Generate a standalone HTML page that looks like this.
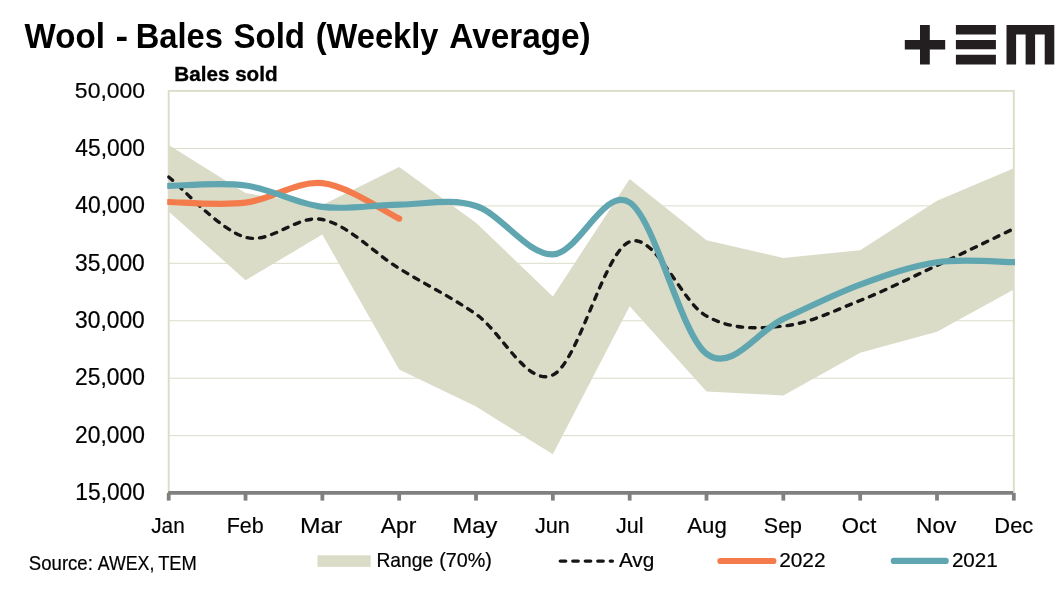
<!DOCTYPE html>
<html><head><meta charset="utf-8"><title>Wool - Bales Sold</title>
<style>
html,body{margin:0;padding:0;background:#fff;}
body{width:1064px;height:593px;overflow:hidden;font-family:"Liberation Sans",sans-serif;}
svg{display:block;will-change:transform;}
text{font-family:"Liberation Sans",sans-serif;fill:#000;}
</style></head><body>
<svg width="1064" height="593" viewBox="0 0 1064 593">
<defs><clipPath id="plot"><rect x="167.2" y="80" width="847.8" height="420"/></clipPath></defs>
<rect width="1064" height="593" fill="#fff"/>
<!-- title -->
<text transform="translate(24.60,48.00) scale(0.9610,1)" font-size="34.5" font-weight="bold">Wool</text><text transform="translate(115.50,48.00) scale(1.0996,1)" font-size="34.5" font-weight="bold">-</text><text transform="translate(135.80,48.00) scale(0.9466,1)" font-size="34.5" font-weight="bold">Bales</text><text transform="translate(233.42,48.00) scale(0.9587,1)" font-size="34.5" font-weight="bold">Sold</text><text transform="translate(315.71,48.00) scale(0.9464,1)" font-size="34.5" font-weight="bold">(Weekly</text><text transform="translate(449.34,48.00) scale(0.9663,1)" font-size="34.5" font-weight="bold">Average)</text>
<!-- logo -->
<g fill="#231f20">
<path d="M920,25h9.8v14.9h15.4v9.5h-15.4v15h-9.8v-15h-15.2v-9.5h15.2z"/>
<path d="M955.9,25h40v9.4h-40z M955.9,39.9h40v9.4h-40z M955.9,54.8h40v9.6h-40z"/>
<path d="M1006.5,25h47.8v39.4h-9.6v-30h-9.6v30h-9.5v-30h-9.5v30h-9.6z"/>
</g>
<!-- axis title -->
<text transform="translate(174.35,81.40) scale(0.9828,1)" font-size="21" font-weight="bold" stroke="#000" stroke-width="0.35">Bales sold</text>
<!-- gridlines -->
<g stroke="#dcddc9" stroke-width="1" transform="translate(0,0.15)"><line x1="168.7" y1="148.33" x2="1013.8" y2="148.33"/><line x1="168.7" y1="205.76" x2="1013.8" y2="205.76"/><line x1="168.7" y1="263.19" x2="1013.8" y2="263.19"/><line x1="168.7" y1="320.61" x2="1013.8" y2="320.61"/><line x1="168.7" y1="378.04" x2="1013.8" y2="378.04"/><line x1="168.7" y1="435.47" x2="1013.8" y2="435.47"/></g>
<!-- range area -->
<path d="M168.70,144.90 L245.53,193.10 L322.36,205.00 L399.19,167.00 L476.02,222.80 L552.85,296.40 L629.68,179.10 L706.51,240.30 L783.34,257.90 L860.17,250.20 L937.00,200.70 L1013.83,168.30 L1013.83,289.50 L937.00,331.70 L860.17,352.80 L783.34,395.40 L706.51,391.60 L629.68,306.20 L552.85,454.30 L476.02,406.50 L399.19,369.60 L322.36,234.60 L245.53,280.20 L168.70,211.50 Z" fill="#dbdcc7"/>
<!-- plot border -->
<rect x="168.7" y="90.9" width="845.1" height="402.0" fill="none" stroke="#dcddc9" stroke-width="1.9"/>
<g clip-path="url(#plot)" fill="none">
<path d="M168.70,177.00 C181.50,187.05 219.92,230.22 245.53,237.30 C271.14,244.38 296.75,214.30 322.36,219.50 C347.97,224.70 373.58,252.72 399.19,268.50 C424.80,284.28 450.41,296.45 476.02,314.20 C501.63,331.95 527.24,387.08 552.85,375.00 C578.46,362.92 604.07,251.52 629.68,241.70 C655.29,231.88 680.90,302.03 706.51,316.10 C732.12,330.17 757.73,328.70 783.34,326.10 C808.95,323.50 834.56,310.62 860.17,300.50 C885.78,290.38 911.39,277.37 937.00,265.40 C962.61,253.43 1001.02,234.82 1013.83,228.70" stroke="#161616" stroke-width="3.4" stroke-linecap="round" stroke-dasharray="5.4 7.1"/>
<path d="M168.70,202.00 C181.50,202.12 219.92,205.83 245.53,202.70 C271.14,199.57 296.75,180.55 322.36,183.20 C347.97,185.85 386.38,212.70 399.19,218.60" stroke="#f47c4c" stroke-width="6.2" stroke-linecap="round" stroke-linejoin="round"/>
<path d="M168.70,185.90 C181.50,185.83 219.92,182.00 245.53,185.50 C271.14,189.00 296.75,203.72 322.36,206.90 C347.97,210.08 373.58,204.75 399.19,204.60 C424.80,204.45 450.41,197.70 476.02,206.00 C501.63,214.30 527.24,254.98 552.85,254.40 C578.46,253.82 604.07,185.93 629.68,202.50 C655.29,219.07 680.90,334.42 706.51,353.80 C732.12,373.18 757.73,330.33 783.34,318.80 C808.95,307.27 834.56,294.03 860.17,284.60 C885.78,275.17 911.39,265.93 937.00,262.20 C962.61,258.47 1001.02,262.20 1013.83,262.20" stroke="#60a6b0" stroke-width="6.2" stroke-linecap="round" stroke-linejoin="round"/>
</g>
<!-- axis -->
<g stroke="#808080" stroke-width="3.8"><line x1="168.2" y1="492.9" x2="1013.2" y2="492.9"/><line x1="168.70" y1="492.9" x2="168.70" y2="500.6"/><line x1="245.53" y1="492.9" x2="245.53" y2="500.6"/><line x1="322.36" y1="492.9" x2="322.36" y2="500.6"/><line x1="399.19" y1="492.9" x2="399.19" y2="500.6"/><line x1="476.02" y1="492.9" x2="476.02" y2="500.6"/><line x1="552.85" y1="492.9" x2="552.85" y2="500.6"/><line x1="629.68" y1="492.9" x2="629.68" y2="500.6"/><line x1="706.51" y1="492.9" x2="706.51" y2="500.6"/><line x1="783.34" y1="492.9" x2="783.34" y2="500.6"/><line x1="860.17" y1="492.9" x2="860.17" y2="500.6"/><line x1="937.00" y1="492.9" x2="937.00" y2="500.6"/><line x1="1013.83" y1="492.9" x2="1013.83" y2="500.6"/></g>
<g><text transform="translate(74.86,98.30) scale(0.9991,1)" font-size="23" stroke="#000" stroke-width="0.2">50,000</text><text transform="translate(75.35,155.73) scale(0.9899,1)" font-size="23" stroke="#000" stroke-width="0.2">45,000</text><text transform="translate(75.35,213.16) scale(0.9899,1)" font-size="23" stroke="#000" stroke-width="0.2">40,000</text><text transform="translate(75.06,270.59) scale(0.9919,1)" font-size="23" stroke="#000" stroke-width="0.2">35,000</text><text transform="translate(75.06,328.01) scale(0.9919,1)" font-size="23" stroke="#000" stroke-width="0.2">30,000</text><text transform="translate(75.08,385.44) scale(0.9929,1)" font-size="23" stroke="#000" stroke-width="0.2">25,000</text><text transform="translate(75.08,442.87) scale(0.9929,1)" font-size="23" stroke="#000" stroke-width="0.2">20,000</text><text transform="translate(75.31,500.30) scale(0.9906,1)" font-size="23" stroke="#000" stroke-width="0.2">15,000</text></g>
<g><text transform="translate(151.23,532.60) scale(0.9179,1)" font-size="22.6" stroke="#000" stroke-width="0.2">Jan</text><text transform="translate(226.67,532.60) scale(0.9532,1)" font-size="22.6" stroke="#000" stroke-width="0.2">Feb</text><text transform="translate(299.95,532.60) scale(1.0890,1)" font-size="22.6" stroke="#000" stroke-width="0.2">Mar</text><text transform="translate(380.70,532.60) scale(1.0147,1)" font-size="22.6" stroke="#000" stroke-width="0.2">Apr</text><text transform="translate(452.60,532.60) scale(1.0464,1)" font-size="22.6" stroke="#000" stroke-width="0.2">May</text><text transform="translate(534.93,532.60) scale(0.9576,1)" font-size="22.6" stroke="#000" stroke-width="0.2">Jun</text><text transform="translate(616.09,532.60) scale(0.9523,1)" font-size="22.6" stroke="#000" stroke-width="0.2">Jul</text><text transform="translate(687.32,532.60) scale(0.9823,1)" font-size="22.6" stroke="#000" stroke-width="0.2">Aug</text><text transform="translate(763.87,532.60) scale(0.9478,1)" font-size="22.6" stroke="#000" stroke-width="0.2">Sep</text><text transform="translate(841.86,532.60) scale(0.9794,1)" font-size="22.6" stroke="#000" stroke-width="0.2">Oct</text><text transform="translate(916.02,532.60) scale(1.0053,1)" font-size="22.6" stroke="#000" stroke-width="0.2">Nov</text><text transform="translate(994.33,532.60) scale(0.9687,1)" font-size="22.6" stroke="#000" stroke-width="0.2">Dec</text></g>
<!-- source -->
<text transform="translate(28.85,569.50) scale(0.9529,1)" font-size="19.5" stroke="#000" stroke-width="0.2">Source:</text><text transform="translate(97.70,569.50) scale(0.9126,1)" font-size="19.5" stroke="#000" stroke-width="0.2">AWEX,</text><text transform="translate(158.15,569.50) scale(0.9403,1)" font-size="19.5" stroke="#000" stroke-width="0.2">TEM</text>
<!-- legend -->
<rect x="317.5" y="555.3" width="53.2" height="11.6" fill="#dbdcc7"/>
<text transform="translate(376.44,566.50) scale(0.9822,1)" font-size="19.6" stroke="#000" stroke-width="0.2">Range</text><text transform="translate(439.17,566.50) scale(1.0087,1)" font-size="19.6" stroke="#000" stroke-width="0.2">(70%)</text>
<line x1="560.3" y1="561.1" x2="612.4" y2="561.1" stroke="#161616" stroke-width="3.4" stroke-linecap="round" stroke-dasharray="5.4 7.1"/>
<text transform="translate(618.89,566.50) scale(1.0610,1)" font-size="19.6" stroke="#000" stroke-width="0.2">Avg</text>
<line x1="720.4" y1="561" x2="773.4" y2="561" stroke="#f47c4c" stroke-width="6.2" stroke-linecap="round"/>
<text transform="translate(779.13,566.70) scale(1.0629,1)" font-size="19.6" stroke="#000" stroke-width="0.2">2022</text>
<line x1="893.8" y1="560.9" x2="945.7" y2="560.9" stroke="#60a6b0" stroke-width="6.2" stroke-linecap="round"/>
<text transform="translate(951.90,566.70) scale(1.0515,1)" font-size="19.6" stroke="#000" stroke-width="0.2">2021</text>
</svg>
</body></html>
